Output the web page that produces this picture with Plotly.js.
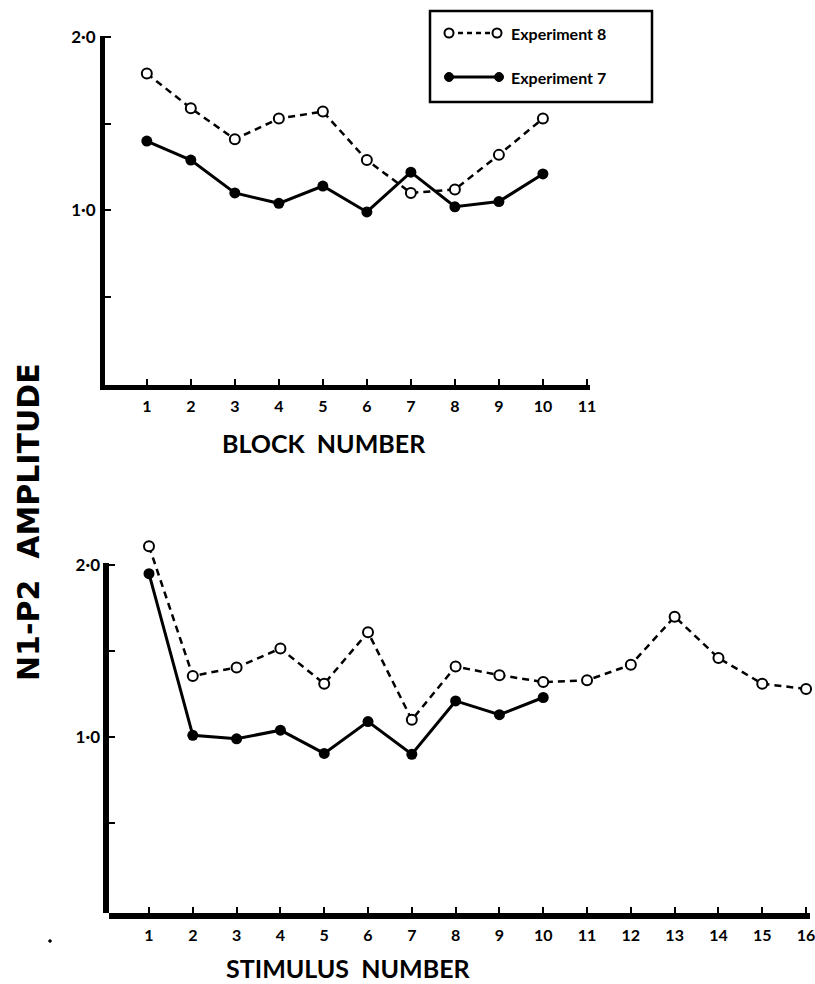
<!DOCTYPE html>
<html>
<head>
<meta charset="utf-8">
<script src="https://cdn.plot.ly/plotly-3.0.1.min.js"></script>
<style>
  html, body { margin: 0; padding: 0; background: #fff; }
  #chart { width: 815px; height: 984px; }
</style>
</head>
<body>
<div id="chart"></div>
<script>
// Top panel: N1-P2 amplitude by block
const blockNumbers = [1, 2, 3, 4, 5, 6, 7, 8, 9, 10];
const blockExp8 = [1.79, 1.59, 1.41, 1.53, 1.57, 1.29, 1.10, 1.12, 1.32, 1.53];
const blockExp7 = [1.40, 1.29, 1.10, 1.04, 1.14, 0.99, 1.22, 1.02, 1.05, 1.21];

// Bottom panel: N1-P2 amplitude by stimulus
const stimulusExp8Numbers = [1, 2, 3, 4, 5, 6, 7, 8, 9, 10, 11, 12, 13, 14, 15, 16];
const stimulusExp8 = [2.11, 1.355, 1.405, 1.515, 1.31, 1.61, 1.10, 1.41, 1.36, 1.32, 1.33, 1.42, 1.70, 1.46, 1.31, 1.28];
const stimulusExp7Numbers = [1, 2, 3, 4, 5, 6, 7, 8, 9, 10];
const stimulusExp7 = [1.95, 1.01, 0.99, 1.04, 0.905, 1.09, 0.90, 1.21, 1.13, 1.23];

// Tick labels
const blockTicks = [1, 2, 3, 4, 5, 6, 7, 8, 9, 10, 11];
const stimulusTicks = [1, 2, 3, 4, 5, 6, 7, 8, 9, 10, 11, 12, 13, 14, 15, 16];
const ampTickVals = [0.5, 1.0, 1.5, 2.0];
const ampTickText = ['', '1·0', '', '2·0'];

const FONT = 'Lato, "Open Sans", sans-serif';
const WIDE = '"DejaVu Sans", Lato, sans-serif';
const INK = '#000';

const bold = s => (s === '' ? '' : '<b>' + s + '</b>');

const dashedStyle = {
  mode: 'lines+markers', cliponaxis: false,
  line: { color: INK, width: 2.5, dash: '7px,5px' },
  marker: { symbol: 'circle', size: 10, color: '#fff', line: { color: INK, width: 2 } }
};
const solidStyle = {
  mode: 'lines+markers', cliponaxis: false,
  line: { color: INK, width: 3 },
  marker: { symbol: 'circle', size: 11, color: INK }
};

const traces = [
  Object.assign({ x: blockNumbers, y: blockExp8, xaxis: 'x', yaxis: 'y', name: 'Experiment 8' }, dashedStyle),
  Object.assign({ x: blockNumbers, y: blockExp7, xaxis: 'x', yaxis: 'y', name: 'Experiment 7' }, solidStyle),
  Object.assign({ x: stimulusExp8Numbers, y: stimulusExp8, xaxis: 'x2', yaxis: 'y2', name: 'Experiment 8' }, dashedStyle),
  Object.assign({ x: stimulusExp7Numbers, y: stimulusExp7, xaxis: 'x2', yaxis: 'y2', name: 'Experiment 7' }, solidStyle)
];

const xTickFont = { family: FONT, size: 16, color: INK };
const yTickFont = { family: FONT, size: 17, color: INK };

function xAxis(domain, range, ticks, anchor, lw) {
  return {
    domain: domain, range: range, anchor: anchor,
    tickmode: 'array', tickvals: ticks, ticktext: ticks.map(t => bold(String(t))),
    ticks: 'inside', ticklen: 6, tickwidth: 2, tickcolor: INK,
    showline: true, linecolor: INK, linewidth: lw,
    showgrid: false, zeroline: false, fixedrange: true,
    tickfont: xTickFont, ticklabelstandoff: 3, ticklabeloverflow: 'allow'
  };
}
function yAxis(domain, range, anchor, lw, standoff) {
  return {
    domain: domain, range: range, anchor: anchor,
    tickmode: 'array', tickvals: ampTickVals, ticktext: ampTickText.map(bold),
    ticks: 'inside', ticklen: 6, tickwidth: 2, tickcolor: INK,
    showline: lw > 0, linecolor: INK, linewidth: Math.max(lw, 1),
    showgrid: false, zeroline: false, fixedrange: true,
    tickfont: yTickFont, ticklabelstandoff: standoff
  };
}

const W = 815, H = 984;
const px = v => v / W;
const py = v => 1 - v / H;

function dot(xp, yp, r, filled) {
  return {
    type: 'circle', xref: 'paper', yref: 'paper',
    xsizemode: 'pixel', ysizemode: 'pixel',
    xanchor: px(xp), yanchor: py(yp),
    x0: -r, x1: r, y0: -r, y1: r,
    fillcolor: filled ? INK : '#fff', line: { color: INK, width: filled ? 1 : 2 }
  };
}

// Bottom panel: the plotting area runs a little above 2·0 so the first
// Experiment 8 point is not clipped; its vertical axis stops at 2·0.
const bottomPxPerUnit = 172;
const bottomYMin = -0.023, bottomAxisTop = 2.012;
const bottomTopPx = 540;
const bottomYMax = bottomAxisTop + (563 - bottomTopPx) / bottomPxPerUnit;

const shapes = [
  // key box
  { type: 'rect', xref: 'paper', yref: 'paper', x0: px(430), x1: px(652), y0: py(102), y1: py(11),
    line: { color: INK, width: 2.5 }, fillcolor: 'rgba(0,0,0,0)' },
  { type: 'line', xref: 'paper', yref: 'paper', x0: px(449), x1: px(497), y0: py(33), y1: py(33),
    line: { color: INK, width: 2.5, dash: '5px,4px' } },
  dot(449, 33, 4.5, false), dot(497, 33, 4.5, false),
  { type: 'line', xref: 'paper', yref: 'paper', x0: px(449), x1: px(499), y0: py(77), y1: py(77),
    line: { color: INK, width: 3 } },
  dot(449, 77, 4.5, true), dot(499, 77, 4.5, true),
  // bottom panel vertical axis line
  { type: 'line', xref: 'paper', yref: 'y2', x0: px(106), x1: px(106),
    y0: bottomYMin - 6 / bottomPxPerUnit, y1: bottomAxisTop,
    line: { color: INK, width: 6 } },
  dot(50, 941, 1.3, true)
];

const titleFont = { family: FONT, size: 25, color: INK, weight: 'bold' };
const keyFont = { family: FONT, size: 16, color: INK, weight: 'bold' };

const annotations = [
  { text: '<b>Experiment 8</b>', xref: 'paper', yref: 'paper', x: px(509), y: py(33), xanchor: 'left', yanchor: 'middle',
    showarrow: false, font: keyFont },
  { text: '<b>Experiment 7</b>', xref: 'paper', yref: 'paper', x: px(509), y: py(77), xanchor: 'left', yanchor: 'middle',
    showarrow: false, font: keyFont },
  { text: '<b>BLOCK  NUMBER</b>', xref: 'paper', yref: 'paper', x: px(324), y: py(443), xanchor: 'center', yanchor: 'middle',
    showarrow: false, font: titleFont },
  { text: '<b>STIMULUS  NUMBER</b>', xref: 'paper', yref: 'paper', x: px(348), y: py(968), xanchor: 'center', yanchor: 'middle',
    showarrow: false, font: titleFont },
  { text: '<b>N1-P2  AMPLITUDE</b>', xref: 'paper', yref: 'paper', x: px(28), y: py(522), xanchor: 'center', yanchor: 'middle',
    textangle: -90, showarrow: false, font: { family: WIDE, size: 30, color: INK, weight: 'bold' } }
];

const layout = {
  width: W, height: H,
  margin: { l: 0, r: 0, t: 0, b: 0 },
  paper_bgcolor: '#fff', plot_bgcolor: '#fff',
  showlegend: false,
  font: { family: FONT, color: INK },
  xaxis: xAxis([px(105), px(590)], [0.05, 11.07], blockTicks, 'y', 5),
  yaxis: yAxis([py(385), py(36)], [-0.01, 2.007], 'x', 5, 1),
  xaxis2: xAxis([px(109), px(810)], [0.087, 16.09], stimulusTicks, 'y2', 6),
  yaxis2: yAxis([py(913), py(bottomTopPx)], [bottomYMin, bottomYMax], 'x2', 0, 8),
  shapes: shapes,
  annotations: annotations
};

Plotly.newPlot('chart', traces, layout, { displayModeBar: false, staticPlot: true });
</script>
</body>
</html>
